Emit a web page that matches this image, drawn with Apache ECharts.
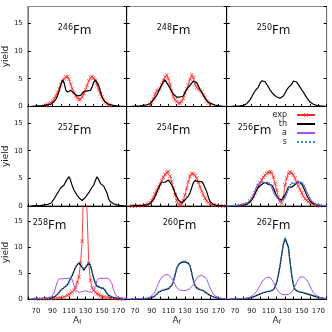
<!DOCTYPE html>
<html>
<head>
<meta charset="utf-8" />
<title>Fm fission yields</title>
<style>
html, body, #chart { width: 100%; height: 100%; margin: 0; overflow: hidden; background: #fff; }
</style>
</head>
<body>
<div id="chart"></div>
<script src="https://cdn.jsdelivr.net/npm/echarts@6/dist/echarts.min.js"></script>
<script>
// fragment mass A_f vs yield, one panel per Fm isotope
var isotopes = ['246', '248', '250', '252', '254', '256', '258', '260', '262'];
var xTickLabels = [70, 90, 110, 130, 150, 170];

var th246 = [[64,0],[68,0.05],[72,0.1],[76,0.1],[80,0.2],[84,0.3],[88,0.4],[90,0.6],[92,0.9],[94,1.3],[96,1.9],[98,2.8],[100,3.9],[102,4.8],[104,4.3],[106,3.0],[108,2.6],[110,2.8],[112,2.9],[114,2.6],[116,2.4],[118,2.2],[120,1.9],[122,1.7],[124,2.0],[126,2.3],[128,2.7],[130,3.0],[132,2.8],[134,2.7],[136,2.9],[138,3.5],[140,4.4],[142,4.8],[144,4.6],[146,3.8],[148,2.8],[150,1.8],[152,1.2],[154,0.8],[156,0.5],[158,0.4],[160,0.3],[164,0.2],[168,0.1],[172,0.05],[180,0]];
var exp246 = [[82,0.2],[84,0.3],[86,0.5],[88,0.7],[90,1.0],[92,1.4],[94,1.9],[96,2.5],[98,3.2],[100,3.9],[102,4.5],[104,5.0],[106,5.3],[108,5.4],[110,4.9],[112,4.0],[114,3.2],[116,2.5],[118,1.9],[120,1.5],[122,1.2],[124,1.3],[126,1.7],[128,2.3],[130,3.0],[132,3.8],[134,4.6],[136,5.2],[138,5.4],[140,5.1],[142,4.6],[144,3.8],[146,3.0],[148,2.3],[150,1.7],[152,1.2],[154,0.8],[156,0.5],[158,0.3],[160,0.2]];

var th248 = [[64,0],[70,0.05],[76,0.1],[80,0.2],[84,0.3],[88,0.5],[90,0.8],[92,1.2],[94,1.6],[96,2.0],[98,2.6],[100,3.3],[102,3.9],[104,4.4],[106,4.8],[108,4.3],[110,3.8],[112,3.3],[114,2.7],[116,2.2],[118,1.9],[120,1.7],[122,1.6],[124,1.7],[126,1.6],[128,1.9],[130,2.6],[132,3.1],[134,3.4],[136,3.8],[138,4.2],[140,4.6],[142,4.8],[144,4.3],[146,3.7],[148,3.1],[150,2.6],[152,2.0],[154,1.5],[156,1.1],[158,0.8],[160,0.6],[162,0.4],[166,0.25],[170,0.15],[174,0.08],[180,0]];
var exp248 = [[88,0.3],[90,0.8],[92,1.4],[94,2.2],[96,2.8],[98,3.0],[100,3.2],[102,3.9],[104,4.7],[106,5.3],[108,5.7],[110,5.0],[112,4.0],[114,2.8],[116,1.8],[118,1.2],[120,0.9],[122,0.6],[124,0.6],[126,0.9],[128,1.5],[130,2.4],[132,3.2],[134,3.9],[136,4.9],[138,5.7],[140,5.2],[142,4.0],[144,3.4],[146,3.1],[148,2.9],[150,2.6],[152,2.1],[154,1.6],[156,1.0],[158,0.6],[160,0.3]];

var th250 = [[64,0],[70,0.05],[76,0.1],[80,0.2],[84,0.5],[88,1.2],[90,1.7],[92,2.3],[94,2.8],[96,3.1],[98,3.5],[100,4.2],[102,4.6],[104,4.8],[106,4.5],[108,4.0],[110,3.5],[112,3.0],[114,2.6],[116,2.2],[118,1.9],[120,1.7],[122,1.5],[124,1.5],[126,1.6],[128,1.9],[130,2.4],[132,3.0],[134,3.4],[136,3.6],[138,4.0],[140,4.6],[142,4.8],[144,4.4],[146,4.1],[148,3.5],[150,3.0],[152,2.6],[154,2.1],[156,1.6],[158,1.2],[160,0.8],[162,0.5],[164,0.4],[168,0.2],[172,0.1],[176,0.05],[180,0]];

var th252 = [[64,0],[70,0.05],[76,0.1],[80,0.2],[84,0.3],[88,0.5],[90,0.8],[92,1.3],[94,1.8],[96,2.3],[98,2.8],[100,3.3],[102,3.6],[104,3.8],[106,4.4],[108,4.9],[110,5.3],[112,4.6],[114,3.6],[116,2.9],[118,2.4],[120,1.9],[122,1.5],[124,1.2],[126,1.0],[128,1.3],[130,1.6],[132,2.0],[134,2.4],[136,2.9],[138,3.4],[140,3.8],[142,4.6],[144,5.3],[146,4.8],[148,4.1],[150,3.8],[152,3.6],[154,3.3],[156,2.4],[158,1.3],[160,0.8],[162,0.6],[164,0.4],[168,0.2],[172,0.1],[176,0.05],[180,0]];

var th254 = [[64,0],[72,0.05],[80,0.1],[84,0.2],[88,0.4],[90,0.7],[92,1.1],[94,1.7],[96,2.4],[98,3.1],[100,3.8],[102,4.3],[104,4.4],[106,4.3],[108,4.6],[110,4.7],[112,4.3],[114,3.8],[116,3.2],[118,2.4],[120,1.7],[122,1.1],[124,0.8],[126,0.6],[128,0.8],[130,1.1],[132,1.4],[134,1.8],[136,2.4],[138,3.3],[140,4.2],[142,4.6],[144,4.5],[146,4.4],[148,4.5],[150,4.4],[152,4.0],[154,3.3],[156,2.6],[158,1.6],[160,0.8],[162,0.5],[164,0.3],[168,0.1],[172,0.05],[180,0]];
var exp254 = [[66,0],[70,0.02],[74,0.05],[78,0.1],[82,0.2],[86,0.4],[88,0.6],[90,1.0],[92,1.5],[94,2.2],[96,2.8],[98,3.4],[100,4.0],[102,4.6],[104,5.2],[106,5.7],[108,6.1],[110,6.2],[112,5.4],[114,4.4],[116,3.2],[118,2.0],[120,1.0],[122,0.4],[124,0.1],[126,0.3],[128,1.0],[130,2.0],[132,3.2],[134,4.4],[136,5.4],[138,5.9],[140,5.8],[142,5.5],[144,5.0],[146,4.3],[148,3.5],[150,2.7],[152,2.0],[154,1.4],[156,0.9],[158,0.6],[160,0.4],[164,0.2],[168,0.1],[172,0.05],[176,0]];

var th256 = [[64,0],[72,0.05],[80,0.15],[84,0.3],[88,0.7],[90,1.1],[92,1.6],[94,2.2],[96,2.9],[98,3.4],[100,3.7],[102,3.9],[104,4.1],[106,4.3],[108,4.4],[110,3.9],[112,3.6],[114,3.8],[116,3.3],[118,2.5],[120,1.8],[122,1.3],[124,1.1],[126,1.1],[128,1.4],[130,2.0],[132,2.7],[134,3.4],[136,3.6],[138,3.4],[140,3.6],[142,3.9],[144,4.2],[146,4.4],[148,4.3],[150,4.0],[152,3.4],[154,2.7],[156,2.0],[158,1.4],[160,0.9],[162,0.6],[164,0.4],[168,0.2],[172,0.1],[176,0.05],[180,0]];
var exp256 = [[76,0.1],[80,0.2],[84,0.4],[88,0.9],[90,1.3],[92,1.8],[94,2.4],[96,3.0],[98,3.6],[100,4.2],[102,4.7],[104,5.2],[106,5.6],[108,5.9],[110,6.1],[112,6.2],[114,6.0],[116,5.2],[118,4.0],[120,2.8],[122,1.6],[124,0.8],[126,0.5],[128,1.5],[130,3.8],[132,5.0],[134,5.9],[136,6.2],[138,6.0],[140,5.6],[142,5.0],[144,4.3],[146,3.6],[148,3.0],[150,2.4],[152,1.8],[154,1.3],[156,1.0],[158,0.8],[160,0.6],[164,0.3],[168,0.15],[172,0.05]];
var a256 = [[60,0],[64,0.05],[70,0.1],[76,0.2],[80,0.3],[84,0.5],[88,1.0],[90,1.4],[92,2.0],[94,2.7],[96,3.5],[98,4.0],[100,4.2],[102,4.3],[104,4.2],[106,4.2],[108,4.3],[110,4.3],[112,4.0],[114,3.4],[116,2.6],[118,2.0],[120,1.6],[122,1.2],[124,0.9],[126,0.8],[128,1.0],[130,1.5],[132,2.2],[134,3.0],[136,3.7],[138,4.1],[140,4.2],[142,4.1],[144,4.1],[146,4.2],[148,4.3],[150,4.3],[152,3.9],[154,3.3],[156,2.6],[158,2.0],[160,1.4],[162,0.9],[164,0.6],[166,0.4],[170,0.2],[174,0.1],[180,0.05]];
var s256 = [[60,0],[64,0.05],[70,0.1],[76,0.2],[80,0.3],[84,0.5],[88,1.0],[90,1.4],[92,2.0],[94,2.8],[96,3.6],[98,4.1],[100,4.3],[102,4.4],[104,4.2],[106,4.1],[108,4.3],[110,4.4],[112,4.1],[114,3.4],[116,2.6],[118,2.0],[120,1.6],[122,1.2],[124,0.9],[126,0.8],[128,1.0],[130,1.5],[132,2.2],[134,3.0],[136,3.8],[138,4.2],[140,4.3],[142,4.1],[144,4.0],[146,4.2],[148,4.4],[150,4.4],[152,4.0],[154,3.3],[156,2.6],[158,2.0],[160,1.4],[162,0.9],[164,0.6],[166,0.4],[170,0.2],[174,0.1],[180,0.05]];

var th258 = [[64,0],[72,0.02],[80,0.05],[84,0.1],[88,0.2],[90,0.3],[92,0.4],[94,0.6],[96,0.9],[98,1.3],[100,1.7],[102,2.0],[104,2.2],[106,2.4],[108,2.7],[110,3.3],[112,4.0],[114,4.6],[116,5.4],[118,6.1],[120,6.6],[122,7.0],[124,6.8],[126,6.1],[128,5.6],[130,5.8],[132,6.5],[134,7.0],[136,6.5],[138,5.2],[140,4.0],[142,3.0],[144,2.5],[146,2.3],[148,2.2],[150,2.1],[152,2.0],[154,1.6],[156,1.1],[158,0.7],[160,0.5],[162,0.35],[164,0.25],[168,0.15],[172,0.1],[176,0.05],[180,0]];
var exp258 = [[70,0],[76,0.05],[80,0.05],[84,0.1],[88,0.1],[92,0.15],[96,0.2],[100,0.3],[104,0.4],[108,0.7],[110,0.9],[112,1.1],[114,1.4],[116,1.7],[118,2.3],[120,3.2],[122,4.3],[124,7.0],[126,11.2],[128,24],[130,27],[131,21],[134,6.9],[136,3.6],[138,2.2],[140,1.7],[142,1.3],[144,1.0],[146,0.9],[148,0.6],[150,0.5],[152,0.4],[156,0.3],[160,0.2],[164,0.1],[168,0.1],[172,0.05],[176,0]];
var a258 = [[64,0],[72,0.05],[80,0.1],[84,0.2],[88,0.4],[90,0.6],[92,1.2],[94,2.4],[96,3.4],[98,3.9],[100,4.0],[102,3.9],[104,4.1],[106,4.0],[108,4.2],[110,4.0],[112,4.2],[114,3.8],[116,2.6],[118,1.7],[120,1.4],[122,1.3],[124,1.3],[126,1.4],[128,1.5],[130,1.6],[132,1.5],[134,1.4],[136,1.3],[138,1.3],[140,1.4],[142,2.4],[144,3.6],[146,4.0],[148,4.1],[150,4.0],[152,4.2],[154,4.0],[156,4.1],[158,4.0],[160,3.9],[162,3.0],[164,1.8],[166,1.0],[168,0.5],[170,0.3],[174,0.15],[180,0.05]];
var s258 = [[64,0],[72,0.02],[80,0.05],[84,0.1],[88,0.2],[90,0.3],[92,0.4],[94,0.6],[96,0.9],[98,1.3],[100,1.7],[102,2.0],[104,2.3],[106,2.5],[108,2.8],[110,3.4],[112,4.1],[114,4.7],[116,5.5],[118,6.3],[120,6.8],[122,7.1],[124,7.0],[126,6.3],[128,5.8],[130,6.0],[132,6.7],[134,7.2],[136,6.6],[138,5.3],[140,4.1],[142,3.1],[144,2.6],[146,2.4],[148,2.3],[150,2.2],[152,2.1],[154,1.7],[156,1.2],[158,0.8],[160,0.5],[162,0.35],[164,0.25],[168,0.15],[172,0.1],[176,0.05],[180,0]];

var th260 = [[64,0],[72,0.02],[80,0.05],[84,0.08],[88,0.15],[90,0.25],[92,0.4],[94,0.6],[96,0.9],[98,1.3],[100,1.6],[102,1.6],[104,1.7],[106,1.8],[108,1.8],[110,2.0],[112,2.2],[114,2.6],[116,3.4],[118,4.6],[120,5.9],[122,6.6],[124,6.9],[126,7.1],[128,7.2],[130,7.2],[132,7.1],[134,6.9],[136,6.4],[138,5.0],[140,3.6],[142,2.6],[144,2.1],[146,1.9],[148,1.8],[150,1.7],[152,1.6],[154,1.4],[156,1.1],[158,0.9],[160,0.7],[162,0.5],[164,0.4],[168,0.2],[172,0.1],[176,0.05],[180,0]];
var a260 = [[64,0],[72,0.05],[80,0.1],[84,0.2],[88,0.4],[90,0.6],[92,0.9],[94,1.4],[96,2.2],[98,3.0],[100,3.7],[102,4.2],[104,4.5],[106,4.7],[108,4.8],[110,4.7],[112,4.4],[114,4.0],[116,3.5],[118,2.8],[120,2.2],[122,1.9],[124,1.7],[126,1.6],[128,1.6],[130,1.7],[132,1.7],[134,1.8],[136,2.0],[138,2.3],[140,2.8],[142,3.4],[144,4.0],[146,4.4],[148,4.6],[150,4.6],[152,4.4],[154,4.2],[156,3.8],[158,3.0],[160,2.2],[162,1.5],[164,1.0],[166,0.6],[168,0.4],[172,0.2],[176,0.1],[180,0.05]];
var s260 = [[64,0],[72,0.02],[80,0.05],[84,0.08],[88,0.15],[90,0.25],[92,0.4],[94,0.6],[96,0.9],[98,1.3],[100,1.6],[102,1.7],[104,1.8],[106,1.9],[108,1.9],[110,2.1],[112,2.3],[114,2.7],[116,3.5],[118,4.7],[120,6.0],[122,6.8],[124,7.1],[126,7.3],[128,7.4],[130,7.4],[132,7.3],[134,7.0],[136,6.5],[138,5.1],[140,3.7],[142,2.7],[144,2.2],[146,2.0],[148,1.9],[150,1.8],[152,1.7],[154,1.5],[156,1.2],[158,0.9],[160,0.7],[162,0.5],[164,0.4],[168,0.2],[172,0.1],[176,0.05],[180,0]];

var th262 = [[64,0],[72,0.02],[80,0.05],[84,0.1],[88,0.2],[92,0.4],[96,0.7],[100,1.0],[104,1.2],[106,1.3],[108,1.4],[110,1.4],[112,1.5],[114,1.6],[116,1.8],[118,2.3],[120,3.2],[122,4.6],[124,6.4],[126,8.6],[128,10.6],[130,11.7],[132,11.6],[134,10.0],[136,7.2],[138,4.6],[140,2.8],[142,1.8],[144,1.5],[146,1.4],[148,1.3],[150,1.3],[152,1.2],[154,1.1],[156,1.0],[158,0.9],[160,0.8],[162,0.7],[164,0.6],[166,0.5],[170,0.3],[174,0.2],[178,0.1],[180,0.05]];
var a262 = [[64,0],[72,0.05],[80,0.1],[84,0.2],[88,0.35],[90,0.5],[92,0.8],[94,1.1],[96,1.5],[98,2.0],[100,2.6],[102,3.2],[104,3.7],[106,4.0],[108,4.2],[110,4.3],[112,4.2],[114,3.9],[116,3.3],[118,2.6],[120,1.9],[122,1.4],[124,1.1],[126,0.9],[128,0.8],[130,0.8],[132,0.8],[134,0.9],[136,1.0],[138,1.3],[140,1.8],[142,2.5],[144,3.2],[146,3.8],[148,4.2],[150,4.3],[152,4.3],[154,4.1],[156,3.7],[158,3.2],[160,2.5],[162,1.8],[164,1.2],[166,0.8],[168,0.5],[172,0.3],[176,0.1],[180,0.05]];
var s262 = [[64,0],[72,0.02],[80,0.05],[84,0.1],[88,0.2],[92,0.4],[96,0.7],[100,1.0],[104,1.3],[106,1.4],[108,1.5],[110,1.5],[112,1.6],[114,1.7],[116,1.9],[118,2.4],[120,3.3],[122,4.7],[124,6.5],[126,8.8],[128,10.8],[130,11.9],[132,11.8],[134,10.2],[136,7.3],[138,4.7],[140,2.9],[142,1.9],[144,1.6],[146,1.5],[148,1.4],[150,1.4],[152,1.3],[154,1.2],[156,1.1],[158,1.0],[160,0.9],[162,0.8],[164,0.7],[166,0.6],[170,0.4],[174,0.2],[178,0.1],[180,0.05]];

var thData = [th246, th248, th250, th252, th254, th256, th258, th260, th262];
var expData = [exp246, exp248, null, null, exp254, exp256, exp258, null, null];
var aData = [null, null, null, null, null, a256, a258, a260, a262];
var sData = [null, null, null, null, null, s256, s258, s260, s262];

var FONT = 'DejaVu Sans';
var colLeft = [26.7, 126.7, 226.7];
var rowTop = [6.5, 106.5, 206];
var rowH = [100, 99.5, 93];
// where the isotope label sits, offset from panel corner
var labelPos = [[31, 17], [30, 17], [30, 17], [31, 17], [30, 17], [11, 17], [6, 13], [36, 13], [30, 13]];

var chart = echarts.init(document.getElementById('chart'));
var grids = [], xAxes = [], yAxes = [], yAxesR = [], titles = [], series = [];
var crossPath = 'path://M0,1L1,0L5,4L9,0L10,1L6,5L10,9L9,10L5,6L1,10L0,9L4,5Z';

for (var i = 0; i < 9; i++) {
	var r = Math.floor(i / 3), c = i % 3;
	grids.push({ left: colLeft[c], top: rowTop[r], width: 100, height: rowH[r], show: true, borderColor: '#888', borderWidth: 1 });
	xAxes.push({
		type: 'value', gridIndex: i, min: 60, max: 180, interval: 10,
		axisLine: { onZero: false, lineStyle: { color: '#000', width: 1 } },
		axisTick: { inside: true, length: 2.5, lineStyle: { color: '#000' } },
		splitLine: { show: false },
		axisLabel: {
			show: r === 2, margin: 9, fontSize: 7, fontFamily: FONT, color: '#222',
			formatter: function (v) { return xTickLabels.indexOf(v) >= 0 ? String(v) : ''; }
		},
		name: r === 2 ? '{a|A}{f|f}' : '', nameLocation: 'middle', nameGap: 17,
		nameTextStyle: { rich: { a: { fontSize: 9, fontFamily: FONT, color: '#222' }, f: { fontSize: 6, fontFamily: FONT, color: '#222', verticalAlign: 'bottom', padding: [3, 0, 0, 0] } } }
	});
	yAxes.push({
		type: 'value', gridIndex: i, min: 0, max: 18, interval: 5,
		axisLine: { show: true, lineStyle: { color: c === 0 ? '#777' : '#000' } },
		axisTick: { inside: true, length: 3, lineStyle: { color: '#000' } },
		splitLine: { show: false },
		axisLabel: { show: c === 0, margin: 5, fontSize: 7, fontFamily: FONT, color: '#222', showMaxLabel: false },
		name: c === 0 ? 'yield' : '', nameLocation: 'middle', nameGap: 13, nameRotate: 90,
		nameTextStyle: { fontSize: 9, fontFamily: FONT, color: '#222' }
	});
	yAxesR.push({
		type: 'value', gridIndex: i, min: 0, max: 18, interval: 5, position: 'right',
		axisLine: { show: true, lineStyle: { color: c === 2 ? '#777' : '#000' } },
		axisTick: { inside: true, length: 3, lineStyle: { color: '#000' } },
		splitLine: { show: false }, axisLabel: { show: false }
	});
	titles.push({
		text: '{s|' + isotopes[i] + '}{m|Fm}',
		left: colLeft[c] + labelPos[i][0], top: rowTop[r] + labelPos[i][1],
		padding: 0,
		textStyle: { fontWeight: 'normal', rich: {
			s: { fontSize: 8, fontWeight: 'normal', fontFamily: FONT, color: '#111', verticalAlign: 'bottom', padding: [0, 0, 5, 0] },
			m: { fontSize: 12, fontWeight: 'normal', fontFamily: FONT, color: '#111', verticalAlign: 'bottom' }
		} }
	});
	if (expData[i]) {
		series.push({
			name: 'exp', type: 'line', xAxisIndex: i, yAxisIndex: i, data: expData[i],
			symbol: crossPath, symbolSize: 4, showAllSymbol: true,
			itemStyle: { color: '#ff2a2a' }, lineStyle: { color: '#ff2a2a', width: 0.9 }, z: 2
		});
	}
	series.push({
		name: 'th', type: 'line', xAxisIndex: i, yAxisIndex: i, data: thData[i], symbol: 'none',
		lineStyle: { color: '#000', width: 1.2 }, itemStyle: { color: '#000' }, z: 3
	});
	if (aData[i]) {
		series.push({
			name: 'a', type: 'line', xAxisIndex: i, yAxisIndex: i, data: aData[i], symbol: 'none',
			lineStyle: { color: '#a652e6', width: 1 }, itemStyle: { color: '#a652e6' }, z: 4
		});
	}
	if (sData[i]) {
		series.push({
			name: 's', type: 'line', xAxisIndex: i, yAxisIndex: i, data: sData[i], symbol: 'none',
			lineStyle: { color: '#2a8ad8', width: 1.4, type: 'dotted' }, itemStyle: { color: '#2a8ad8' }, z: 5
		});
	}
}

var legendNames = ['exp', 'th', 'a', 's'];
var legends = legendNames.map(function (n, k) {
	var lg = {
		data: [n], orient: 'vertical', right: 16, top: 111 + 9 * k, padding: 0,
		itemWidth: 18, itemHeight: 5, align: 'right', selectedMode: false,
		textStyle: { fontSize: 8, fontFamily: FONT, color: '#222', padding: [0, 5, 0, 0] }
	};
	// plain lines carry no marker
	if (n !== 'exp') lg.itemStyle = { color: 'rgba(0,0,0,0)', borderWidth: 0, borderColor: 'rgba(0,0,0,0)' };
	return lg;
});

chart.setOption({
	animation: false,
	backgroundColor: '#fff',
	title: titles,
	legend: legends,
	grid: grids,
	xAxis: xAxes,
	yAxis: yAxes.concat(yAxesR),
	series: series
});
</script>
</body>
</html>
